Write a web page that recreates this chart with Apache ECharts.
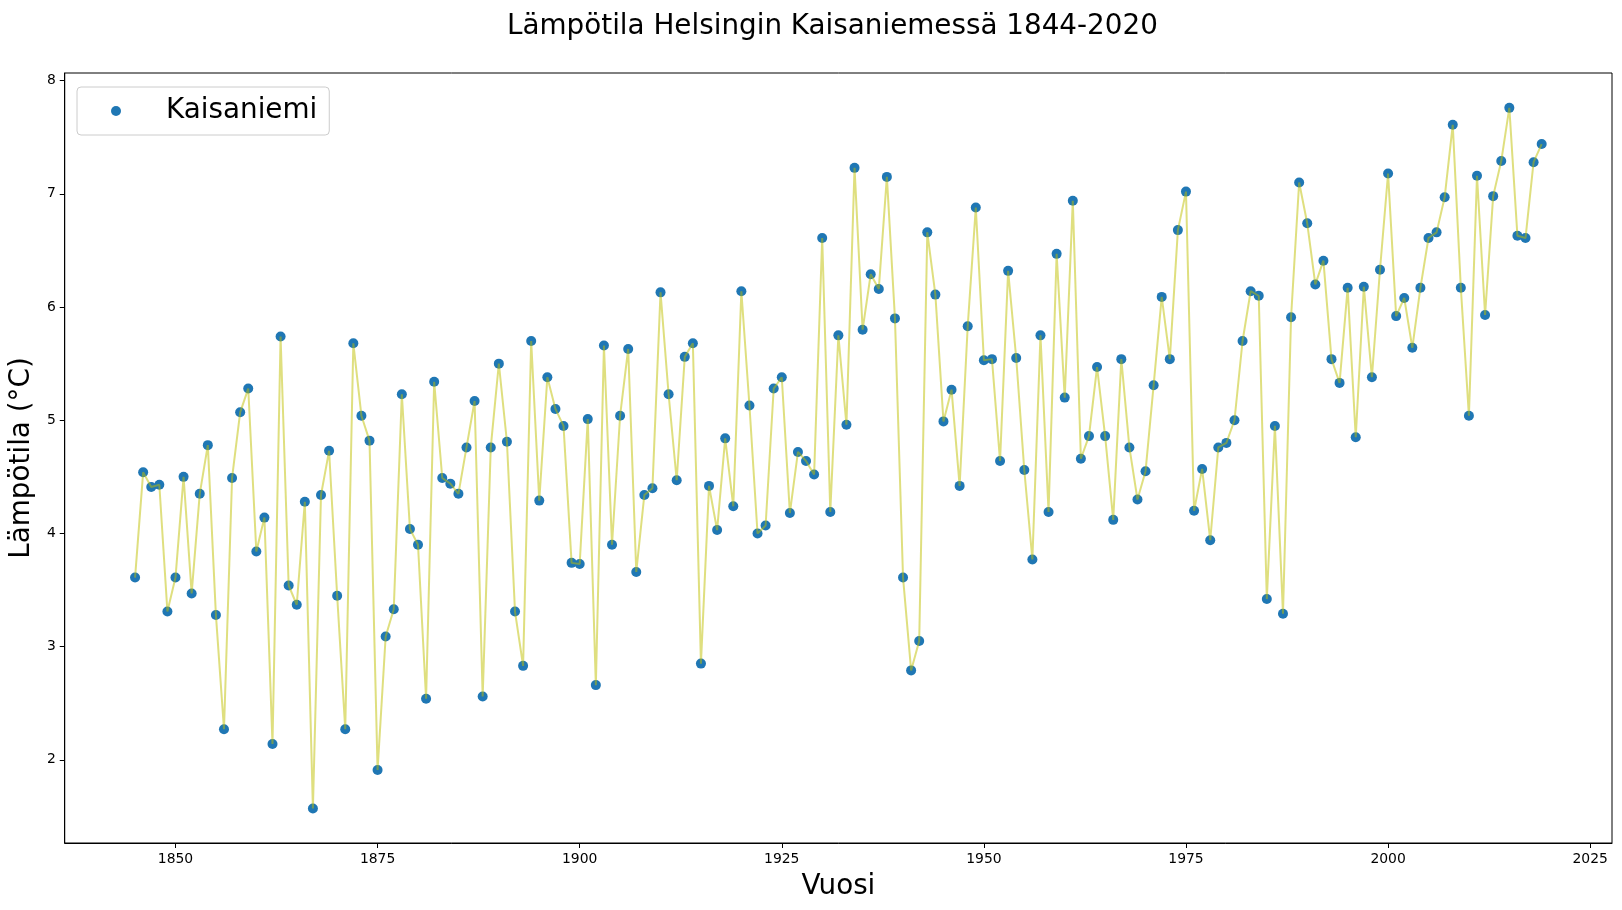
<!DOCTYPE html>
<html>
<head>
<meta charset="utf-8">
<script src="https://cdn.jsdelivr.net/npm/echarts@6/dist/echarts.min.js"></script>
<style>
html,body{margin:0;padding:0;background:#fff;}
#chart{width:1622px;height:910px;}
</style>
</head>
<body>
<div id="chart"></div>
<script>
var firstYear = 1845;
var temps = [
 3.61,4.54,4.41,4.43,3.31,3.61,4.50,3.47,4.35,4.78,
 3.28,2.27,4.49,5.07,5.28,3.84,4.14,2.14,5.74,3.54,
 3.37,4.28,1.57,4.34,4.73,3.45,2.27,5.68,5.04,4.82,
 1.91,3.09,3.33,5.23,4.04,3.90,2.54,5.34,4.49,4.44,
 4.35,4.76,5.17,2.56,4.76,5.50,4.81,3.31,2.83,5.70,
 4.29,5.38,5.10,4.95,3.74,3.73,5.01,2.66,5.66,3.90,
 5.04,5.63,3.66,4.34,4.40,6.13,5.23,4.47,5.56,5.68,
 2.85,4.42,4.03,4.84,4.24,6.14,5.13,4.00,4.07,5.28,
 5.38,4.18,4.72,4.64,4.52,6.61,4.19,5.75,4.96,7.23,
 5.80,6.29,6.16,7.15,5.90,3.61,2.79,3.05,6.66,6.11,
 4.99,5.27,4.42,5.83,6.88,5.53,5.54,4.64,6.32,5.55,
 4.56,3.77,5.75,4.19,6.47,5.20,6.94,4.66,4.86,5.47,
 4.86,4.12,5.54,4.76,4.30,4.55,5.31,6.09,5.54,6.68,
 7.02,4.20,4.57,3.94,4.76,4.80,5.00,5.70,6.14,6.10,
 3.42,4.95,3.29,5.91,7.10,6.74,6.20,6.41,5.54,5.33,
 6.17,4.85,6.18,5.38,6.33,7.18,5.92,6.08,5.64,6.17,
 6.61,6.66,6.97,7.61,6.17,5.04,7.16,5.93,6.98,7.29,
 7.76,6.63,6.61,7.28,7.44
];
var xTicks = [1850,1875,1900,1925,1950,1975,2000,2025];
var yTicks = [2,3,4,5,6,7,8];

var years = [];
for (var i = 0; i < temps.length; i++) years.push(firstYear + i);
var points = years.map(function(y, i){ return [y, temps[i]]; });

var font = 'DejaVu Sans';
var chart = echarts.init(document.getElementById('chart'), null, {renderer:'canvas'});
chart.setOption({
  animation: false,
  backgroundColor: '#ffffff',
  title: {
    text: 'Lämpötila Helsingin Kaisaniemessä 1844-2020',
    left: 502, top: 8,
    textStyle: {fontFamily: font, fontSize: 27.8, fontWeight: 'normal', color: '#000'}
  },
  legend: {
    data: ['Kaisaniemi'],
    left: 77, top: 87,
    padding: [10, 12, 10, 34],
    backgroundColor: '#fff',
    borderColor: '#cccccc', borderWidth: 1, borderRadius: 4,
    icon: 'circle', itemWidth: 10, itemHeight: 10,
    textStyle: {fontFamily: font, fontSize: 27.8, color: '#000', padding: [0,0,0,40]}
  },
  grid: {
    left: 62, right: 10, top: 73, bottom: 67,
    show: true, borderColor: '#000', borderWidth: 1, containLabel: false
  },
  xAxis: {
    type: 'value', min: 1836.3, max: 2027.7,
    name: 'Vuosi', nameLocation: 'middle', nameGap: 30,
    nameTextStyle: {fontFamily: font, fontSize: 27.8, color: '#000'},
    axisLine: {show: true, lineStyle: {color: '#000', width: 1}},
    axisTick: {show: true, length: 5, inside: false, customValues: xTicks, lineStyle: {color: '#000'}},
    axisLabel: {margin: 9, customValues: xTicks, fontFamily: font, fontSize: 13.9, color: '#000',
      formatter: function(v){ return String(v); }},
    splitLine: {show: false}
  },
  yAxis: {
    type: 'value', min: 1.265, max: 8.068,
    name: 'Lämpötila (°C)', nameLocation: 'middle', nameGap: 24,
    nameTextStyle: {fontFamily: font, fontSize: 27.8, color: '#000'},
    axisLine: {show: true, lineStyle: {color: '#000', width: 1}},
    axisTick: {show: true, length: 5, inside: false, customValues: yTicks, lineStyle: {color: '#000'}},
    axisLabel: {margin: 9, customValues: yTicks, fontFamily: font, fontSize: 13.9, color: '#000',
      formatter: function(v){ return String(v); }},
    splitLine: {show: false}
  },
  series: [
    {
      name: 'Kaisaniemi', type: 'scatter', data: points,
      symbol: 'circle', symbolSize: 10,
      itemStyle: {color: '#1f77b4', opacity: 1},
      z: 2
    },
    {
      name: 'line', type: 'line', data: points,
      showSymbol: false, symbol: 'none',
      lineStyle: {color: 'rgba(191,191,0,0.5)', width: 2},
      z: 3
    }
  ]
});
</script>
</body>
</html>
